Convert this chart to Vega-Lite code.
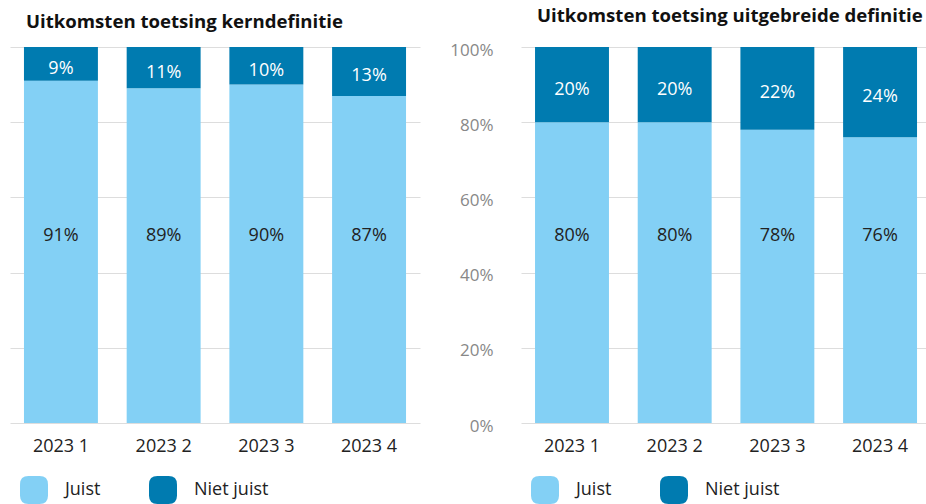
{
  "$schema": "https://vega.github.io/schema/vega-lite/v6.json",
  "padding": {"left": 10, "top": 7, "right": 0, "bottom": 0},
  "background": "white",
  "config": {
    "view": {"stroke": null},
    "font": "Open Sans",
    "title": {"font": "Open Sans", "fontSize": 18.6, "fontWeight": "bold", "color": "#111111", "anchor": "start", "baseline": "alphabetic", "offset": 15, "dx": 16, "frame": "group"},
    "axis": {"gridColor": "#dddddd", "gridWidth": 1, "labelFont": "Open Sans"},
    "legend": {
      "orient": "none", "legendX": 10, "legendY": 429, "direction": "horizontal", "title": null,
      "symbolType": "M -0.4,-1 L 0.4,-1 Q 1,-1 1,-0.4 L 1,0.4 Q 1,1 0.4,1 L -0.4,1 Q -1,1 -1,0.4 L -1,-0.4 Q -1,-1 -0.4,-1 Z",
      "symbolSize": 784, "symbolStrokeWidth": 0, "symbolOpacity": 1,
      "labelFont": "Open Sans", "labelFontSize": 18, "labelColor": "#222222", "labelOffset": 17, "columnPadding": 48, "padding": 0
    }
  },
  "datasets": {
    "kern": [
      {"kwartaal": "2023 1", "uitkomst": "Juist", "aandeel": 0.91},
      {"kwartaal": "2023 1", "uitkomst": "Niet juist", "aandeel": 0.09},
      {"kwartaal": "2023 2", "uitkomst": "Juist", "aandeel": 0.89},
      {"kwartaal": "2023 2", "uitkomst": "Niet juist", "aandeel": 0.11},
      {"kwartaal": "2023 3", "uitkomst": "Juist", "aandeel": 0.90},
      {"kwartaal": "2023 3", "uitkomst": "Niet juist", "aandeel": 0.10},
      {"kwartaal": "2023 4", "uitkomst": "Juist", "aandeel": 0.87},
      {"kwartaal": "2023 4", "uitkomst": "Niet juist", "aandeel": 0.13}
    ],
    "uitgebreid": [
      {"kwartaal": "2023 1", "uitkomst": "Juist", "aandeel": 0.80},
      {"kwartaal": "2023 1", "uitkomst": "Niet juist", "aandeel": 0.20},
      {"kwartaal": "2023 2", "uitkomst": "Juist", "aandeel": 0.80},
      {"kwartaal": "2023 2", "uitkomst": "Niet juist", "aandeel": 0.20},
      {"kwartaal": "2023 3", "uitkomst": "Juist", "aandeel": 0.78},
      {"kwartaal": "2023 3", "uitkomst": "Niet juist", "aandeel": 0.22},
      {"kwartaal": "2023 4", "uitkomst": "Juist", "aandeel": 0.76},
      {"kwartaal": "2023 4", "uitkomst": "Niet juist", "aandeel": 0.24}
    ]
  },
  "spacing": 29,
  "resolve": {"scale": {"color": "independent", "x": "independent", "y": "independent"}, "legend": {"color": "independent"}},
  "hconcat": [
    {
      "title": "Uitkomsten toetsing kerndefinitie",
      "width": 410, "height": 376,
      "data": {"name": "kern"},
      "resolve": {"scale": {"y": "independent"}},
      "layer": [
        {
          "mark": {"type": "bar"},
          "encoding": {
            "x": {"field": "kwartaal", "type": "nominal", "sort": null, "scale": {"paddingInner": 0.28, "paddingOuter": 0.136},
                  "axis": {"title": null, "labelAngle": 0, "ticks": false, "domain": false, "labelPadding": 14, "labelFontSize": 18, "labelColor": "#222222", "grid": false}},
            "y": {"field": "aandeel", "type": "quantitative", "stack": "zero", "scale": {"domain": [0, 1], "nice": false},
                  "axis": {"title": null, "labels": false, "ticks": false, "domain": false, "grid": true, "values": [0, 0.2, 0.4, 0.6, 0.8, 1]}},
            "color": {"field": "uitkomst", "type": "nominal", "scale": {"domain": ["Juist", "Niet juist"], "range": ["#83D0F5", "#007BB0"]}},
            "order": {"field": "uitkomst", "sort": "ascending"}
          }
        },
        {
          "transform": [{"filter": "datum.uitkomst === 'Juist'"}],
          "mark": {"type": "text", "fontSize": 18, "color": "#222222", "baseline": "middle", "dy": 1, "font": "Open Sans"},
          "encoding": {
            "x": {"field": "kwartaal", "type": "nominal", "sort": null},
            "y": {"datum": 0.5, "type": "quantitative", "scale": {"domain": [0, 1], "nice": false}, "axis": null},
            "text": {"field": "aandeel", "type": "quantitative", "format": ".0%"}
          }
        },
        {
          "transform": [
            {"stack": "aandeel", "groupby": ["kwartaal"], "sort": [{"field": "uitkomst", "order": "ascending"}], "as": ["y0", "y1"]},
            {"filter": "datum.uitkomst === 'Niet juist'"}
          ],
          "mark": {"type": "text", "fontSize": 18, "color": "white", "baseline": "middle", "dy": 5, "font": "Open Sans"},
          "encoding": {
            "x": {"field": "kwartaal", "type": "nominal", "sort": null},
            "y": {"field": "y0", "type": "quantitative", "scale": {"domain": [-1, 1], "nice": false, "zero": false}, "axis": null},
            "text": {"field": "aandeel", "type": "quantitative", "format": ".0%"}
          }
        }
      ]
    },
    {
      "title": "Uitkomsten toetsing uitgebreide definitie",
      "width": 405, "height": 376,
      "data": {"name": "uitgebreid"},
      "resolve": {"scale": {"y": "independent"}},
      "layer": [
        {
          "mark": {"type": "bar"},
          "encoding": {
            "x": {"field": "kwartaal", "type": "nominal", "sort": null, "scale": {"paddingInner": 0.28, "paddingOuter": 0.112, "align": 0.61},
                  "axis": {"title": null, "labelAngle": 0, "ticks": false, "domain": false, "labelPadding": 14, "labelFontSize": 18, "labelColor": "#222222", "grid": false}},
            "y": {"field": "aandeel", "type": "quantitative", "stack": "zero", "scale": {"domain": [0, 1], "nice": false},
                  "axis": {"title": null, "format": ".0%", "labelFontSize": 17, "labelColor": "#888888", "labelPadding": 28, "labelOffset": 3, "ticks": false, "domain": false, "grid": true, "values": [0, 0.2, 0.4, 0.6, 0.8, 1], "minExtent": 70, "maxExtent": 70}},
            "color": {"field": "uitkomst", "type": "nominal", "scale": {"domain": ["Juist", "Niet juist"], "range": ["#83D0F5", "#007BB0"]}},
            "order": {"field": "uitkomst", "sort": "ascending"}
          }
        },
        {
          "transform": [{"filter": "datum.uitkomst === 'Juist'"}],
          "mark": {"type": "text", "fontSize": 18, "color": "#222222", "baseline": "middle", "dy": 1, "font": "Open Sans"},
          "encoding": {
            "x": {"field": "kwartaal", "type": "nominal", "sort": null},
            "y": {"datum": 0.5, "type": "quantitative", "scale": {"domain": [0, 1], "nice": false}, "axis": null},
            "text": {"field": "aandeel", "type": "quantitative", "format": ".0%"}
          }
        },
        {
          "transform": [
            {"stack": "aandeel", "groupby": ["kwartaal"], "sort": [{"field": "uitkomst", "order": "ascending"}], "as": ["y0", "y1"]},
            {"filter": "datum.uitkomst === 'Niet juist'"}
          ],
          "mark": {"type": "text", "fontSize": 18, "color": "white", "baseline": "middle", "dy": 5, "font": "Open Sans"},
          "encoding": {
            "x": {"field": "kwartaal", "type": "nominal", "sort": null},
            "y": {"field": "y0", "type": "quantitative", "scale": {"domain": [-1, 1], "nice": false, "zero": false}, "axis": null},
            "text": {"field": "aandeel", "type": "quantitative", "format": ".0%"}
          }
        }
      ]
    }
  ]
}
